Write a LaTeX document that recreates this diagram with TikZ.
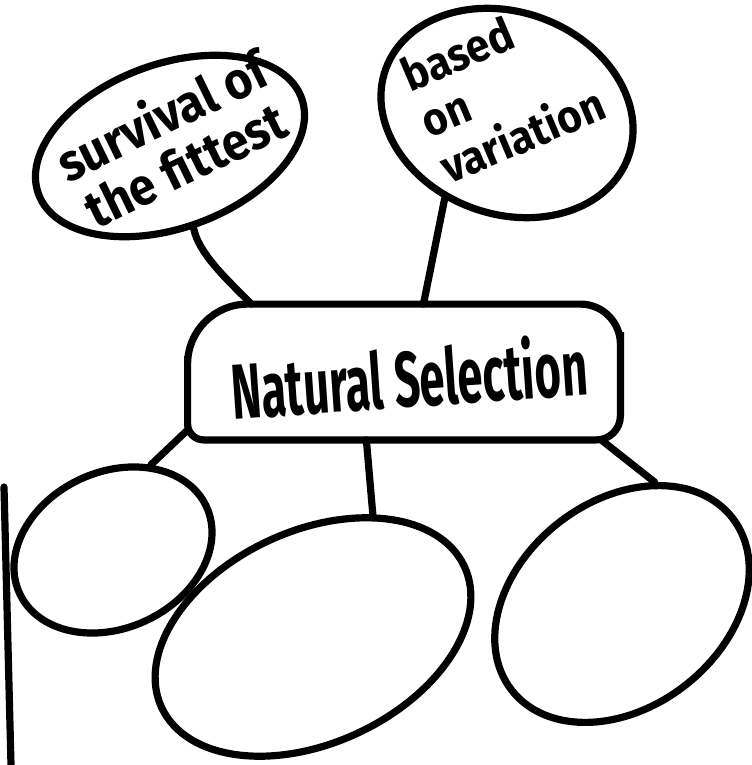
\documentclass[tikz,border=0pt]{standalone}
\usepackage{fontspec}
\newfontfamily\handfont[FakeStretch=0.92]{Fira Sans}
\newfontfamily\titlefont[FakeStretch=0.58]{Fira Sans}
\usetikzlibrary{shapes.geometric}

\begin{document}
\begin{tikzpicture}[
  x=0.5pt, y=-0.5pt,
  bubble/.style={ellipse,draw,line width=3.6pt,inner sep=0pt},
  rim/.style={line width=3.6pt,line cap=round},
  note/.style={inner sep=0pt},
]
  \useasboundingbox (0,0) rectangle (751,765);
  % the two bubbles on top
  \node[bubble,minimum width=140pt,minimum height=82pt,rotate=20]  (fit) at (170,146) {};
  \node[bubble,minimum width=129pt,minimum height=101pt,rotate=-20] (var) at (507,113) {};
  \node[note,rotate=26,align=center,font=\handfont\bfseries\fontsize{26pt}{27pt}\selectfont]
    (fittext) at (173,139) {survival of\\the fittest};
  \node[note,rotate=23,align=left,font=\handfont\bfseries\fontsize{23pt}{25pt}\selectfont]
    (vartext) at (503,89) {based\\on\\variation};
  % centre
  \node[minimum width=216pt,minimum height=67.5pt,inner sep=0pt] (ns) at (404,372) {};
  \draw[rim] (ns.west) [rounded corners=30pt] |- (ns.north) [rounded corners=20pt] -| (ns.east)
    [rounded corners=12pt] |- (ns.south) [rounded corners=8pt] -| (ns.west) -- cycle;
  \node[note,rotate=4,font=\titlefont\bfseries\fontsize{39pt}{44pt}\selectfont]
    (title) at (409,376) {Natural Selection};
  % empty bubbles below
  \node[bubble,minimum width=103pt,minimum height=78pt,rotate=25]  (bl) at (113,550) {};
  \node[bubble,minimum width=167pt,minimum height=106pt,rotate=25] (bm) at (313,637) {};
  \node[bubble,minimum width=140pt,minimum height=103pt,rotate=38] (br) at (622,604) {};
  % links
  \draw[rim] (fit.-94) .. controls +(5,25) and +(-25,-25) .. (ns.156);
  \foreach \from/\to in {var.-106/ns.74, ns.195/bl.41, ns.-119/bm.39, ns.-19/br.37}
    \draw[rim] (\from) -- (\to);
  % margin stroke at the left
  \coordinate (edgetop) at (4,487);
  \coordinate (edgebot) at (11,765);
  \draw[rim] (edgetop) -- (edgebot);
\end{tikzpicture}
\end{document}
